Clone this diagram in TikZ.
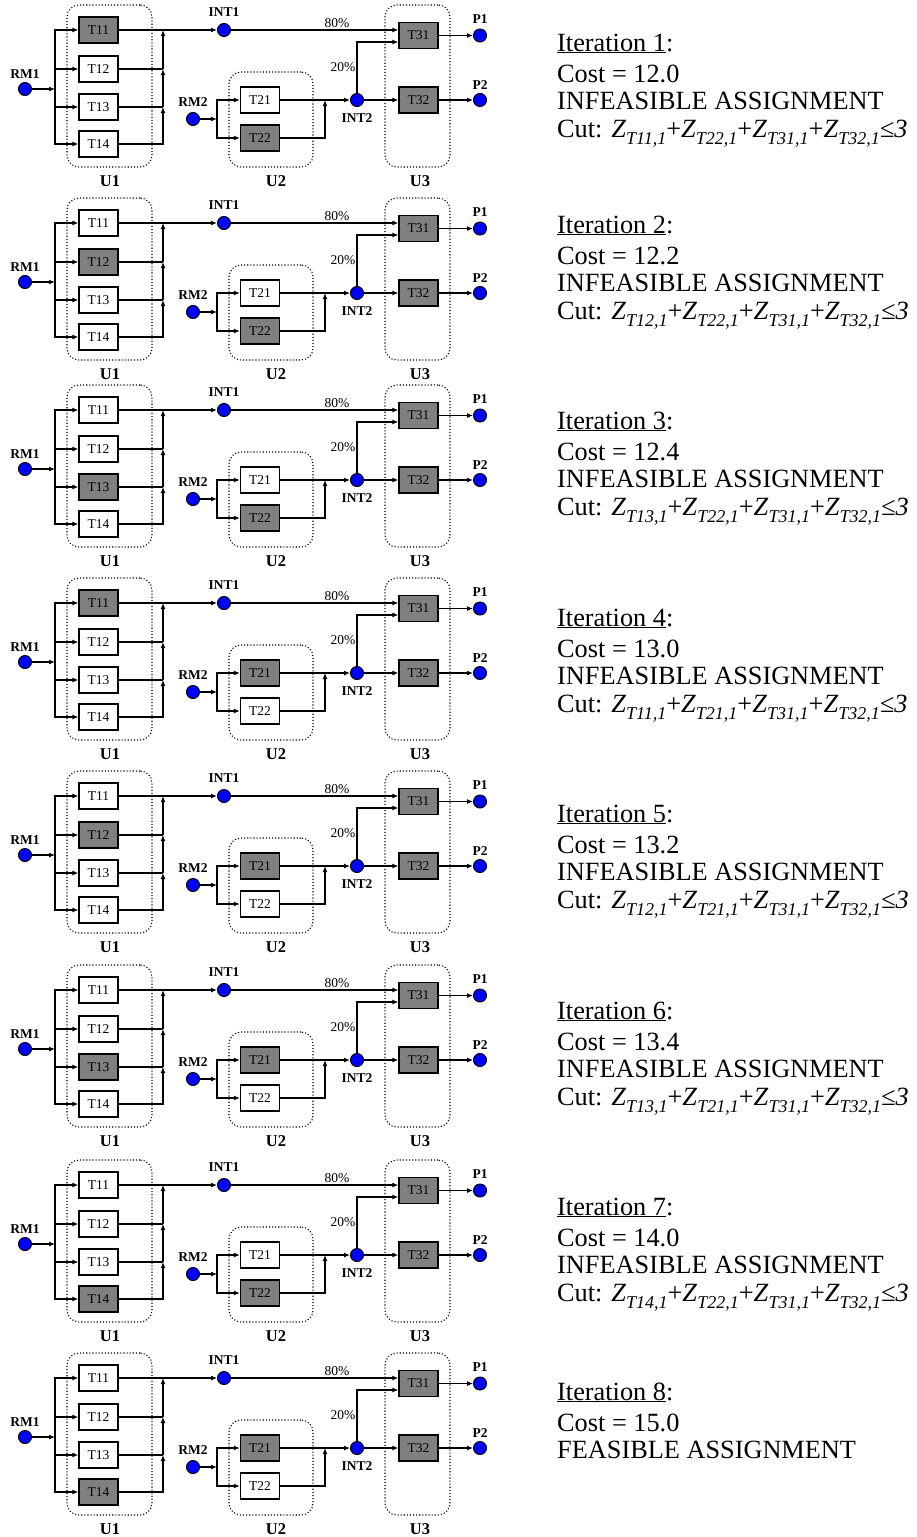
\documentclass[tikz,border=0pt]{standalone}
\usepackage{fontspec}
\setmainfont{Liberation Serif}
\usetikzlibrary{arrows.meta,calc}
\definecolor{boxgray}{gray}{0.5}
\definecolor{dotblue}{RGB}{0,0,255}
\newcommand\zsub[1]{\textit{Z}\raisebox{-7pt}{\fontsize{18}{18}\selectfont\itshape #1}}
\tikzset{
 tbox/.style={draw, line width=1.2pt, fill=white, minimum width=39pt, minimum height=26pt, inner sep=0pt, font=\fontsize{13.5}{14}\selectfont},
 dotn/.style={circle, draw, line width=1pt, fill=dotblue, minimum size=13pt, inner sep=0pt},
 lbl/.style={inner sep=0pt, font=\bfseries\fontsize{13.5}{14}\selectfont},
 ulbl/.style={inner sep=0pt, font=\bfseries\fontsize{16.5}{17}\selectfont},
 pct/.style={inner sep=0pt, font=\fontsize{13.5}{14}\selectfont},
 grp/.style={draw, dotted, line width=1.1pt, rounded corners=12pt, inner sep=0pt},
 conn/.style={line width=1.2pt},
 arr/.style={conn, -{Latex[length=6pt,width=5pt]}},
 txt/.style={anchor=base west, inner sep=0pt, font=\fontsize{26.3}{28}\selectfont},
}
\newcommand\drawpanel[4]{%
\begin{scope}[shift={(0,#2)}, b11/.style={}, b12/.style={}, b13/.style={}, b14/.style={}, b21/.style={}, b22/.style={}, b1#3/.style={fill=boxgray}, b2#4/.style={fill=boxgray}]
 \node[grp, minimum width=85pt, minimum height=162pt] (U1g-#1) at (109.5,86) {};
 \node[grp, minimum width=84pt, minimum height=95pt] (U2g-#1) at (271,119.5) {};
 \node[grp, minimum width=65pt, minimum height=162pt] (U3g-#1) at (417.5,86) {};
 \node[ulbl] (U1-#1) at (110,181) {U1};
 \node[ulbl] (U2-#1) at (276,181) {U2};
 \node[ulbl] (U3-#1) at (420,181) {U3};
 \node[tbox,b11] (T11-#1) at (98.5,30) {T11};
 \node[tbox,b12] (T12-#1) at (98.5,69) {T12};
 \node[tbox,b13] (T13-#1) at (98.5,107) {T13};
 \node[tbox,b14] (T14-#1) at (98.5,144) {T14};
 \node[tbox,b21] (T21-#1) at (260,100) {T21};
 \node[tbox,b22] (T22-#1) at (260,138) {T22};
 \node[tbox,fill=boxgray] (T31-#1) at (418.5,35.5) {T31};
 \node[tbox,fill=boxgray] (T32-#1) at (418.5,100) {T32};
 \node[dotn] (RM1-#1) at (25,89) {};
 \node[dotn] (INT1-#1) at (224,30) {};
 \node[dotn] (RM2-#1) at (193,119) {};
 \node[dotn] (INT2-#1) at (357,100) {};
 \node[dotn] (P1-#1) at (480,35.5) {};
 \node[dotn] (P2-#1) at (480,100) {};
 \node[lbl] (RM1l-#1) at (25,74) {RM1};
 \node[lbl] (INT1l-#1) at (224,12) {INT1};
 \node[lbl] (RM2l-#1) at (193,102) {RM2};
 \node[lbl] (INT2l-#1) at (357,118) {INT2};
 \node[lbl] (P1l-#1) at (480,19) {P1};
 \node[lbl] (P2l-#1) at (480,85) {P2};
 \node[pct] (p80-#1) at (337,23) {80\%};
 \node[pct] (p20-#1) at (343,67) {20\%};
 \coordinate (b1-#1) at (55,89);
 \coordinate (b2-#1) at (217,119);
 \coordinate (j1-#1) at (163,30);
 \coordinate (j2-#1) at (163,69);
 \coordinate (j3-#1) at (163,107);
 \coordinate (j4-#1) at (325,100);
 \draw[arr] (RM1-#1) -- (b1-#1);
 \foreach \k in {T11,T12,T13,T14} \draw[arr] (b1-#1) |- (\k-#1.west);
 \draw[arr] (T11-#1.east) -- (INT1-#1);
 \draw[conn] (T12-#1.east) -- (j2-#1);
 \draw[conn] (T13-#1.east) -- (j3-#1);
 \draw[arr] (T14-#1.east) -| (j3-#1);
 \draw[arr] (j3-#1) -- (j2-#1);
 \draw[arr] (j2-#1) -- (j1-#1);
 \draw[arr] (INT1-#1) -- (T31-#1.west |- INT1-#1);
 \draw[arr] (RM2-#1) -- (b2-#1);
 \draw[arr] (b2-#1) |- (T21-#1.west);
 \draw[arr] (b2-#1) |- (T22-#1.west);
 \draw[arr] (T21-#1.east) -- (INT2-#1);
 \draw[arr] (T22-#1.east) -| (j4-#1);
 \draw[arr] (INT2-#1) |- ($(T31-#1.west)+(0,6.5)$);
 \draw[arr] (INT2-#1) -- (T32-#1);
 \draw[arr] (T31-#1) -- (P1-#1);
 \draw[arr] (T32-#1) -- (P2-#1);
\end{scope}}
\newcommand\textblock[6]{%
 \node[txt] (it-#1) at (557,{#2+51}) {\underline{Iteration #1}:};
 \node[txt] (cost-#1) at (557,{#2+82}) {Cost = #3};
 \node[txt] (inf-#1) at (557,{#2+109.5}) {INFEASIBLE ASSIGNMENT};
 \node[txt] (cut-#1) at (557,{#2+137}) {Cut: \zsub{#4,1}+\zsub{#5,1}+\zsub{T31,1}+\zsub{T32,1}\textit{≤3}};
}
\begin{document}
\begin{tikzpicture}[x=1pt,y=-1pt]
\useasboundingbox (0,0) rectangle (917,1537);
\drawpanel{1}{0}{1}{2}
\drawpanel{2}{193}{2}{2}
\drawpanel{3}{380}{3}{2}
\drawpanel{4}{573}{1}{1}
\drawpanel{5}{766}{2}{1}
\drawpanel{6}{960}{3}{1}
\drawpanel{7}{1155}{4}{2}
\drawpanel{8}{1348}{4}{1}
\textblock{1}{0}{12.0}{T11}{T22}{}
\textblock{2}{182}{12.2}{T12}{T22}{}
\textblock{3}{378}{12.4}{T13}{T22}{}
\textblock{4}{575}{13.0}{T11}{T21}{}
\textblock{5}{771}{13.2}{T12}{T21}{}
\textblock{6}{968}{13.4}{T13}{T21}{}
\textblock{7}{1164}{14.0}{T14}{T22}{}
\node[txt] (it-8) at (557,1400) {\underline{Iteration 8}:};
\node[txt] (cost-8) at (557,1431) {Cost = 15.0};
\node[txt] (inf-8) at (557,1458.5) {FEASIBLE ASSIGNMENT};
\end{tikzpicture}
\end{document}
